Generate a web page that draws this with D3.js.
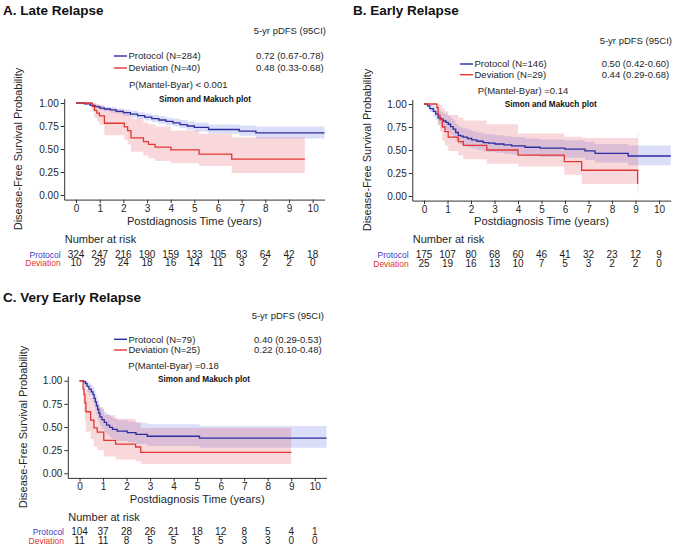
<!DOCTYPE html>
<html><head><meta charset="utf-8">
<script src="https://cdn.jsdelivr.net/npm/d3@7"></script>
<style>
body{margin:0;background:#fff}
svg{display:block}
text{font-family:'Liberation Sans',Arial,Helvetica,sans-serif}
</style>
</head><body>
<svg id="chart" width="675" height="550"></svg>
<script>
// ---------- shared ticks ----------
const timeTicks = [0,1,2,3,4,5,6,7,8,9,10];
const yTicks = [0,0.25,0.5,0.75,1];
const groupNames = ["Protocol","Deviation"];

// ---------- Panel A: Late Relapse ----------
const aProtT  = [0,0.35,0.6,0.8,1.0,1.2,1.45,1.7,2.0,2.3,2.6,2.9,3.2,3.5,3.8,4.1,4.4,4.7,5.0,5.6,6.9,7.6,10.5];
const aProtS  = [1,0.99,0.975,0.96,0.945,0.935,0.925,0.91,0.895,0.878,0.862,0.847,0.83,0.815,0.8,0.785,0.765,0.75,0.735,0.712,0.695,0.675,0.675];
const aProtLo = [1,0.98,0.96,0.94,0.92,0.91,0.895,0.88,0.86,0.84,0.825,0.81,0.79,0.775,0.76,0.745,0.725,0.71,0.69,0.665,0.645,0.615,0.615];
const aProtHi = [1,1,0.99,0.98,0.97,0.96,0.955,0.94,0.93,0.915,0.9,0.885,0.87,0.855,0.84,0.83,0.815,0.8,0.785,0.765,0.755,0.745,0.745];
const aDevT  = [0,0.69,0.78,0.88,0.99,1.2,2.04,2.18,2.32,2.85,3.06,3.34,4.01,5.2,6.58,9.67];
const aDevS  = [1,0.96,0.92,0.89,0.86,0.78,0.74,0.70,0.62,0.58,0.55,0.52,0.49,0.445,0.39,0.39];
const aDevLo = [1,0.9,0.84,0.8,0.76,0.65,0.6,0.55,0.47,0.43,0.4,0.37,0.345,0.315,0.24,0.24];
const aDevHi = [1,1,1,0.99,0.98,0.93,0.91,0.88,0.83,0.79,0.77,0.745,0.70,0.665,0.627,0.627];
const aRiskProt = [324,247,216,190,159,133,105,83,64,42,18];
const aRiskDev  = [10,29,24,18,16,14,11,3,2,2,0];
const aLegend = ["Protocol (N=284)","Deviation (N=40)"];
const aPdfs   = ["0.72 (0.67-0.78)","0.48 (0.33-0.68)"];
const aP = "P(Mantel-Byar) < 0.001";

// ---------- Panel B: Early Relapse ----------
const bProtT  = [0,0.15,0.25,0.4,0.5,0.6,0.72,0.82,0.93,1.03,1.13,1.24,1.35,1.46,1.57,1.67,1.85,2.03,2.25,2.52,2.75,3.02,3.4,3.73,4.3,4.94,6.0,6.85,7.28,8.69,10.5];
const bProtS  = [1,0.98,0.95,0.92,0.89,0.85,0.835,0.815,0.80,0.78,0.755,0.726,0.69,0.66,0.65,0.64,0.625,0.61,0.595,0.58,0.575,0.565,0.555,0.545,0.53,0.52,0.51,0.49,0.464,0.435,0.435];
const bProtHi = [1,1,0.995,0.98,0.96,0.93,0.915,0.9,0.885,0.87,0.845,0.82,0.785,0.755,0.745,0.735,0.72,0.705,0.69,0.675,0.67,0.66,0.65,0.64,0.625,0.615,0.605,0.59,0.565,0.55,0.55];
const bProtLo = [1,0.955,0.91,0.865,0.825,0.78,0.76,0.735,0.715,0.69,0.665,0.63,0.595,0.565,0.555,0.545,0.53,0.515,0.5,0.485,0.48,0.47,0.46,0.45,0.435,0.425,0.415,0.39,0.365,0.335,0.335];
const bDevT  = [0,0.55,0.6,0.68,0.78,0.89,1.03,1.46,1.67,2.67,4.0,5.97,6.71,9.09,9.12];
const bDevS  = [1,0.96,0.88,0.83,0.75,0.70,0.64,0.59,0.55,0.50,0.445,0.373,0.28,0.14,0.14];
const bDevHi = [1,1,1,0.99,0.95,0.92,0.88,0.85,0.82,0.78,0.68,0.645,0.63,0.68,0.68];
const bDevLo = [1,0.89,0.77,0.70,0.60,0.55,0.49,0.44,0.40,0.35,0.32,0.23,0.13,0.03,0.03];
const bRiskProt = [175,107,80,68,60,46,41,32,23,12,9];
const bRiskDev  = [25,19,16,13,10,7,5,3,2,2,0];
const bLegend = ["Protocol (N=146)","Deviation (N=29)"];
const bPdfs   = ["0.50 (0.42-0.60)","0.44 (0.29-0.68)"];
const bP = "P(Mantel-Byar) =0.14";

// ---------- Panel C: Very Early Relapse ----------
const cProtT  = [0,0.17,0.25,0.32,0.4,0.5,0.57,0.62,0.67,0.72,0.77,0.82,0.87,0.95,1.05,1.15,1.28,1.4,1.6,2.03,2.4,2.88,5.1,10.5];
const cProtS  = [1,0.99,0.97,0.94,0.91,0.88,0.85,0.81,0.77,0.73,0.69,0.65,0.61,0.58,0.55,0.52,0.495,0.475,0.455,0.44,0.42,0.40,0.38,0.38];
const cProtHi = [1,1,1,0.99,0.97,0.95,0.93,0.9,0.86,0.83,0.79,0.76,0.72,0.69,0.665,0.64,0.615,0.595,0.575,0.56,0.545,0.53,0.51,0.51];
const cProtLo = [1,0.97,0.93,0.88,0.84,0.80,0.76,0.72,0.67,0.63,0.59,0.55,0.51,0.475,0.445,0.415,0.39,0.37,0.35,0.335,0.315,0.295,0.277,0.277];
const cDevT  = [0,0.15,0.19,0.23,0.27,0.47,0.61,0.75,1.03,1.53,2.38,2.6,9.0];
const cDevS  = [1,0.91,0.85,0.76,0.665,0.575,0.49,0.445,0.356,0.316,0.284,0.225,0.225];
const cDevHi = [1,1,1,0.96,0.9,0.82,0.75,0.71,0.63,0.59,0.55,0.49,0.49];
const cDevLo = [1,0.75,0.66,0.55,0.45,0.37,0.29,0.25,0.18,0.15,0.13,0.10,0.10];
const cRiskProt = [104,37,28,26,21,18,12,8,5,4,1];
const cRiskDev  = [11,11,8,5,5,5,5,3,3,0,0];
const cLegend = ["Protocol (N=79)","Deviation (N=25)"];
const cPdfs   = ["0.40 (0.29-0.53)","0.22 (0.10-0.48)"];
const cP = "P(Mantel-Byar) =0.18";

// ---------- styles ----------
const COL = {
  protLine:"#2c2c9e", devLine:"#e2362f",
  protFill:"rgba(70,90,220,0.20)", devFill:"rgba(225,60,80,0.20)",
  protLab:"#3c3cc0", devLab:"#e2362f", text:"#262626", axis:"#333"
};

const svg = d3.select("#chart");

function series(t,s,lo,hi){ return t.map((v,i)=>({t:v,s:s[i],lo:lo[i],hi:hi[i]})); }

function drawPanel(p){
  const g = svg.append("g");
  const x = d3.scaleLinear().domain([-0.5,10.5]).range([p.left,p.right]);
  const y = d3.scaleLinear().domain([-0.05,1.05]).range([p.bottom,p.top]);

  // title
  g.append("text").attr("x",p.titleX).attr("y",p.titleY)
    .attr("font-size",13.5).attr("font-weight","bold").attr("fill","#111").text(p.title);
  // 5-yr header
  g.append("text").attr("x",p.hdrX).attr("y",p.hdrY).attr("text-anchor","end")
    .attr("font-size",9.5).attr("fill",COL.text).text("5-yr pDFS (95CI)");
  // legend
  const lcols=[COL.protLine,COL.devLine];
  p.legend.forEach((lab,i)=>{
    const ly = p.legY[i];
    g.append("line").attr("x1",p.legX).attr("x2",p.legX+13).attr("y1",ly).attr("y2",ly)
      .attr("stroke",lcols[i]).attr("stroke-width",1.4);
    g.append("text").attr("x",p.legX+14.5).attr("y",ly+3.4).attr("font-size",9.5)
      .attr("fill",COL.text).text(lab);
    g.append("text").attr("x",p.valX).attr("y",ly+3.4).attr("font-size",9.5)
      .attr("fill",COL.text).text(p.pdfs[i]);
  });
  g.append("text").attr("x",p.pX).attr("y",p.pY).attr("font-size",9.5)
    .attr("fill",COL.text).text(p.pText);
  g.append("text").attr("x",p.smX).attr("y",p.smY).attr("text-anchor","middle")
    .attr("font-size",8.2).attr("font-weight","bold").attr("fill","#111").text("Simon and Makuch plot");

  // bands
  const area = d3.area().curve(d3.curveStepAfter).x(d=>x(d.t)).y0(d=>y(d.lo)).y1(d=>y(d.hi));
  const line = d3.line().curve(d3.curveStepAfter).x(d=>x(d.t)).y(d=>y(d.s));
  g.append("path").datum(p.prot).attr("d",area).attr("fill",COL.protFill);
  g.append("path").datum(p.dev).attr("d",area).attr("fill",COL.devFill);
  g.append("path").datum(p.prot).attr("d",line).attr("fill","none").attr("stroke",COL.protLine).attr("stroke-width",1.3);
  g.append("path").datum(p.dev).attr("d",line).attr("fill","none").attr("stroke",COL.devLine).attr("stroke-width",1.3);

  // axes
  const xa = g.append("g").attr("transform",`translate(0,${p.bottom})`)
    .call(d3.axisBottom(x).tickValues(timeTicks).tickFormat(d3.format("d")).tickSize(3.5).tickSizeOuter(0).tickPadding(1.5));
  const ya = g.append("g").attr("transform",`translate(${p.left},0)`)
    .call(d3.axisLeft(y).tickValues(yTicks).tickFormat(d3.format(".2f")).tickSize(3.5).tickSizeOuter(0).tickPadding(2));
  [xa,ya].forEach(a=>{
    a.selectAll("path").attr("stroke",COL.axis).attr("stroke-width",1);
    a.selectAll("line").attr("stroke",COL.axis);
    a.selectAll("text").attr("font-size",10).attr("fill",COL.text)
      .attr("font-family","'Liberation Sans',Arial,sans-serif");
  });

  // axis titles
  g.append("text").attr("x",(p.left+p.right)/2).attr("y",p.xTitleY).attr("text-anchor","middle")
    .attr("font-size",11.2).attr("fill",COL.text).text("Postdiagnosis Time (years)");
  g.append("text").attr("transform",`translate(${p.yTitleX},${(p.top+p.bottom)/2}) rotate(-90)`)
    .attr("text-anchor","middle").attr("font-size",11).attr("fill",COL.text).text("Disease-Free Survival Probability");

  // risk table
  g.append("text").attr("x",p.left+0.5).attr("y",p.nrY).attr("font-size",11).attr("fill",COL.text).text("Number at risk");
  const rows=[{lab:groupNames[0],vals:p.riskProt,col:COL.protLab,y:p.rowY[0]},
              {lab:groupNames[1],vals:p.riskDev,col:COL.devLab,y:p.rowY[1]}];
  rows.forEach(r=>{
    g.append("text").attr("x",p.rowLabX).attr("y",r.y).attr("text-anchor","end")
      .attr("font-size",8.5).attr("fill",r.col).text(r.lab);
    g.selectAll(null).data(r.vals).enter().append("text")
      .attr("x",(d,i)=>x(timeTicks[i])).attr("y",r.y).attr("text-anchor","middle")
      .attr("font-size",10).attr("fill","#1a1a1a").text(d=>d);
  });
}

drawPanel({
  title:"A. Late Relapse", titleX:3, titleY:14.5,
  hdrX:326, hdrY:34, legend:aLegend, pdfs:aPdfs, legX:114, legY:[56,68], valX:256,
  pText:aP, pX:129, pY:87.5, smX:205, smY:101.5,
  left:64.2, right:324.5, top:98.4, bottom:199.6,
  xTitleY:224.5, yTitleX:22, nrY:242.5, rowY:[257.5,266.3], rowLabX:60.7,
  prot:series(aProtT,aProtS,aProtLo,aProtHi), dev:series(aDevT,aDevS,aDevLo,aDevHi),
  riskProt:aRiskProt, riskDev:aRiskDev
});
drawPanel({
  title:"B. Early Relapse", titleX:353, titleY:14.5,
  hdrX:672, hdrY:44, legend:bLegend, pdfs:bPdfs, legX:460, legY:[64,74.7], valX:601.7,
  pText:bP, pX:477.7, pY:93.5, smX:550.7, smY:106.5,
  left:412.25, right:670.75, top:99.4, bottom:200.6,
  xTitleY:224.5, yTitleX:371, nrY:243, rowY:[258,267], rowLabX:408.7,
  prot:series(bProtT,bProtS,bProtLo,bProtHi), dev:series(bDevT,bDevS,bDevLo,bDevHi),
  riskProt:bRiskProt, riskDev:bRiskDev
});
drawPanel({
  title:"C. Very Early Relapse", titleX:3, titleY:301.7,
  hdrX:324, hdrY:318.5, legend:cLegend, pdfs:cPdfs, legX:114, legY:[339.3,350], valX:254,
  pText:cP, pX:128.3, pY:369, smX:204, smY:382,
  left:67.8, right:326.5, top:376.1, bottom:477.9,
  xTitleY:503, yTitleX:27, nrY:520.5, rowY:[534.5,543.5], rowLabX:64,
  prot:series(cProtT,cProtS,cProtLo,cProtHi), dev:series(cDevT,cDevS,cDevLo,cDevHi),
  riskProt:cRiskProt, riskDev:cRiskDev
});
</script>
</body></html>
